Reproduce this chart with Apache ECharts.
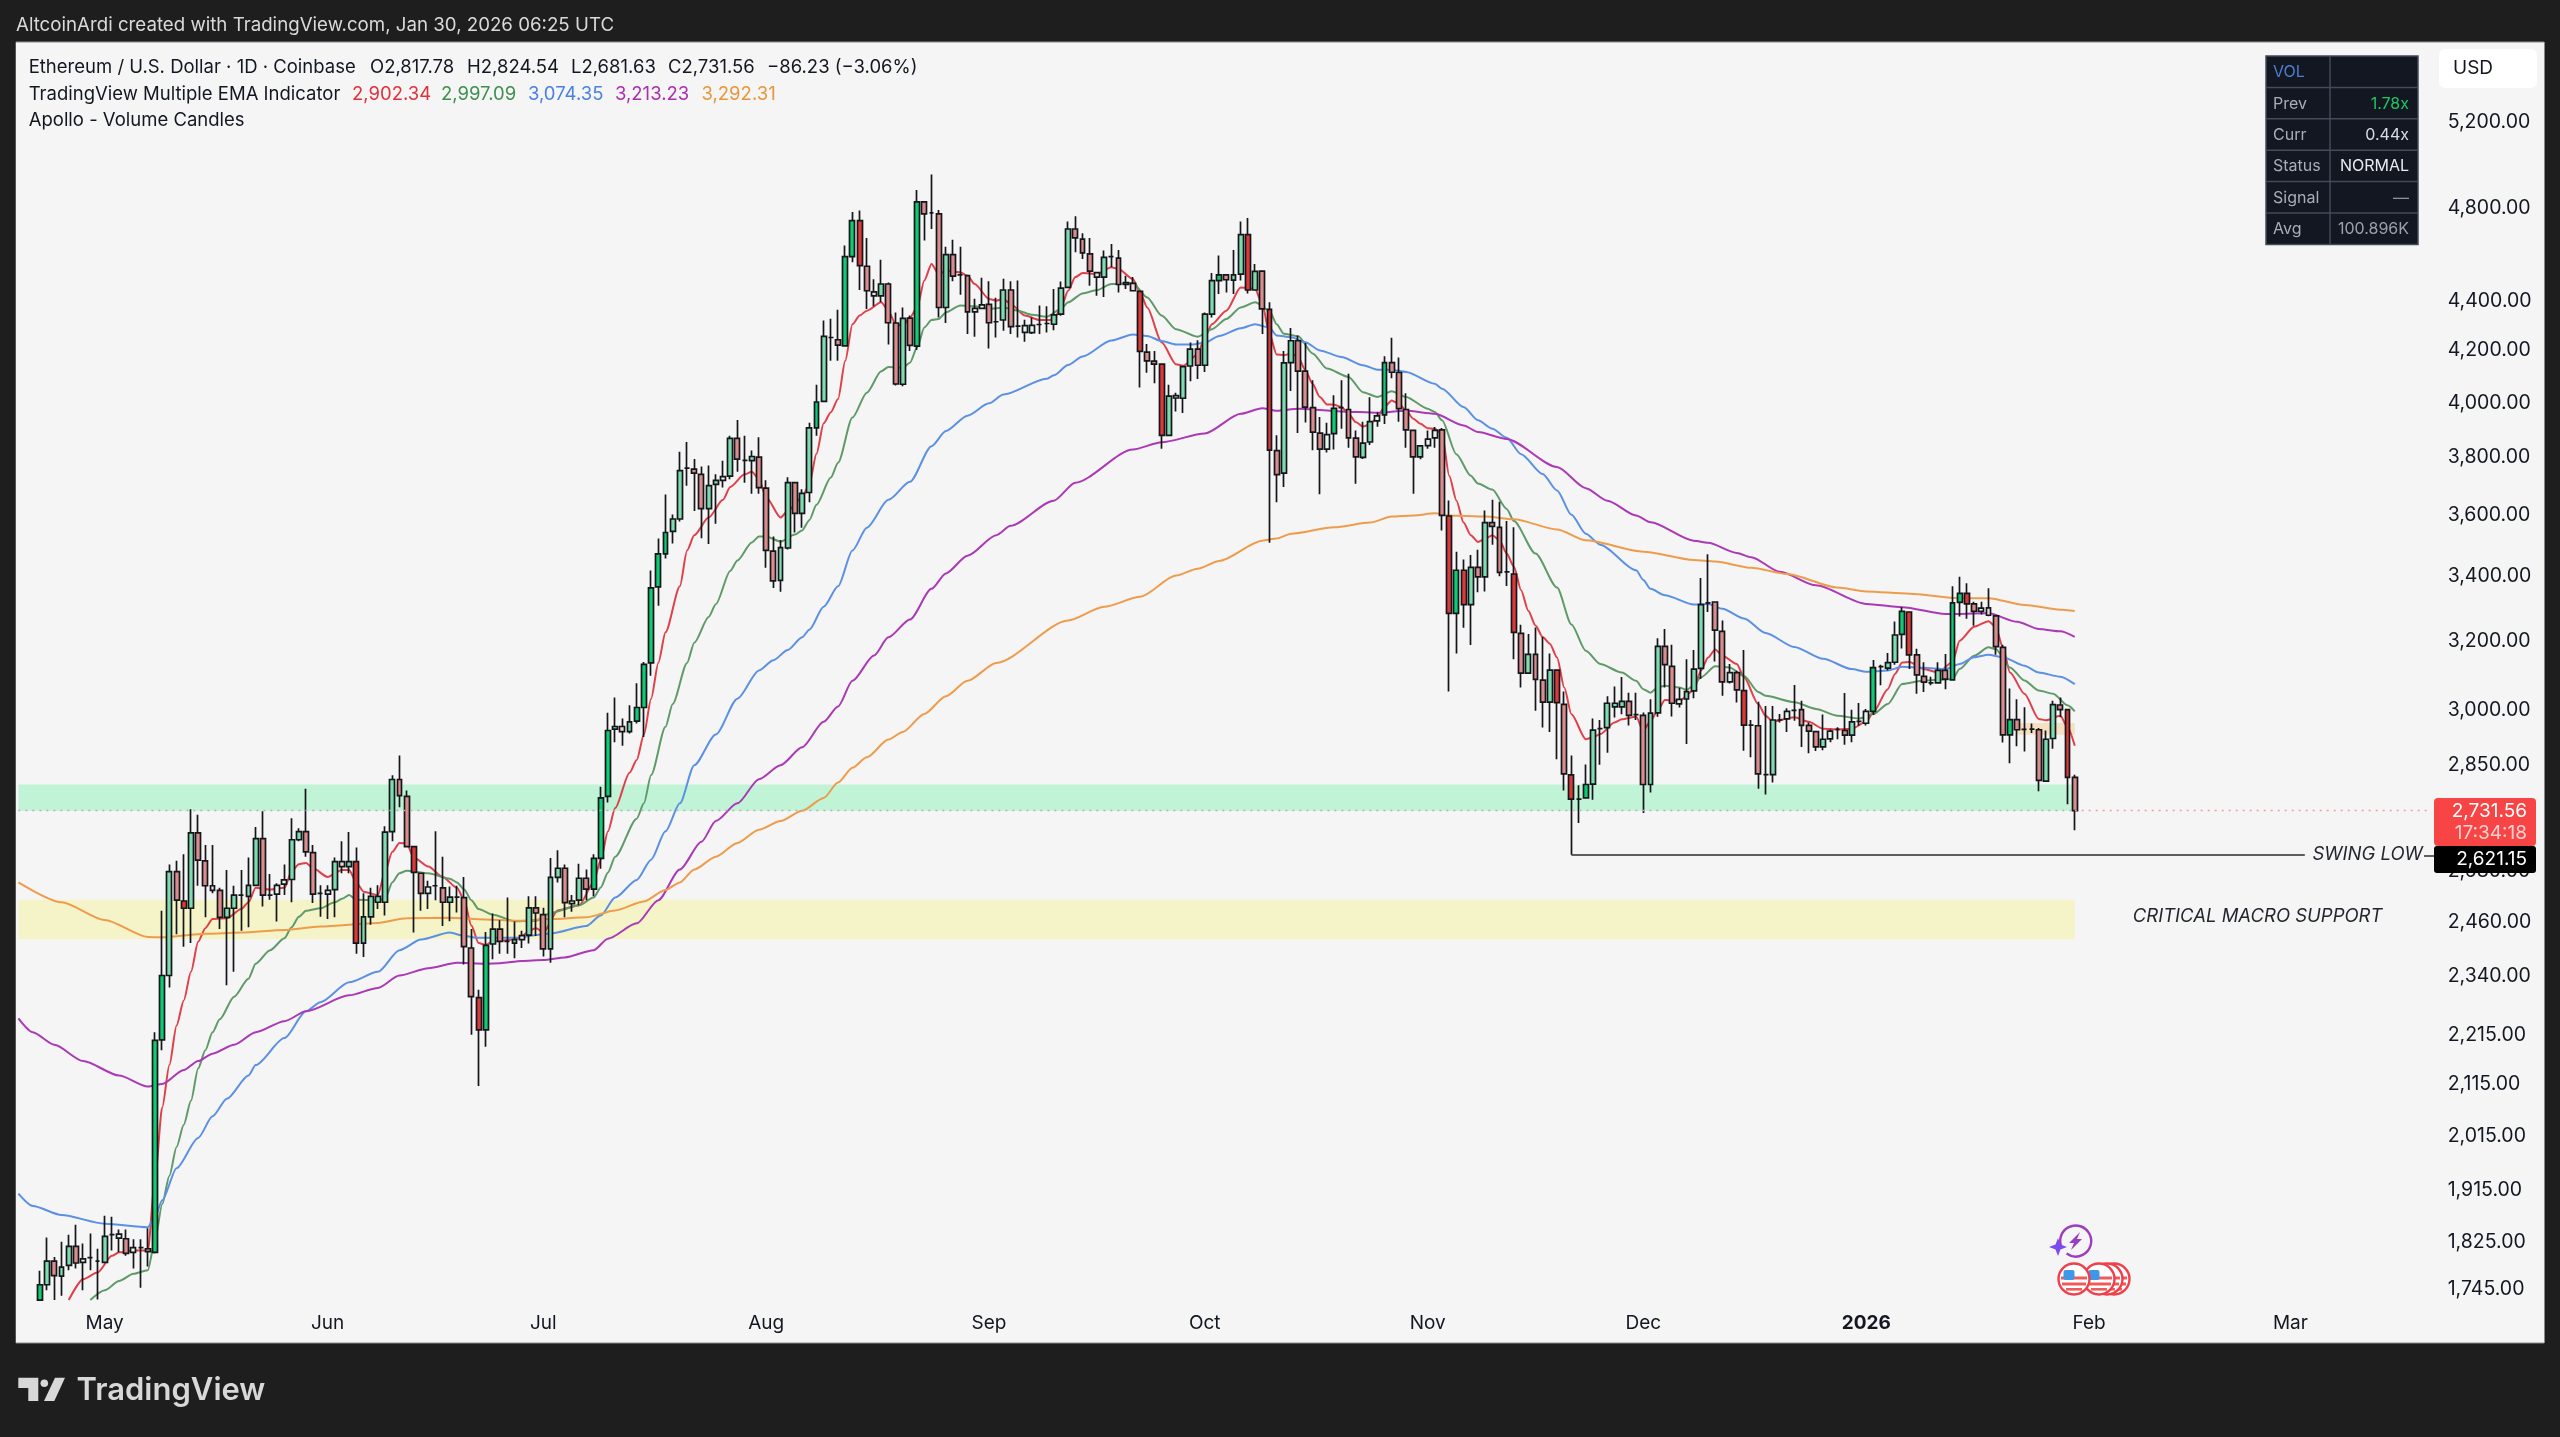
<!DOCTYPE html>
<html><head><meta charset="utf-8">
<style>html,body{margin:0;padding:0;background:#1e1e1e}#c{width:2560px;height:1437px}</style>
<script src="https://cdn.jsdelivr.net/npm/echarts@6/dist/echarts.min.js"></script>
</head><body><div id="c"></div>
<script>
// Daily candles from 2025-04-22: [open, high, low, close]
const ethOHLC = [
[1728,1776,1728,1753],[1753,1832,1744,1792],[1792,1799,1728,1768],[1767,1825,1735,1782],[1785,1837,1777,1817],[1817,1854,1780,1789],[1790,1822,1744,1796],[1798,1839,1777,1798],[1792,1813,1729,1792],[1790,1870,1790,1834],
[1837,1868,1810,1837],[1831,1846,1807,1838],[1830,1846,1801,1805],[1807,1829,1780,1815],[1815,1829,1748,1815],[1813,1848,1783,1808],[1807,2220,1805,2203],[2204,2487,2183,2341],[2341,2597,2315,2580],[2580,2606,2433,2512],
[2510,2622,2405,2493],[2493,2735,2413,2675],[2675,2721,2546,2608],[2606,2645,2472,2546],[2546,2645,2528,2535],[2535,2541,2445,2472],[2472,2584,2320,2493],[2493,2546,2349,2524],[2524,2584,2441,2524],[2521,2614,2449,2547],
[2547,2690,2546,2661],[2661,2730,2497,2524],[2524,2574,2513,2524],[2526,2552,2462,2547],[2550,2597,2524,2560],[2561,2712,2507,2658],[2658,2687,2654,2678],[2678,2788,2616,2628],[2626,2645,2505,2526],[2528,2547,2473,2528],
[2526,2547,2468,2535],[2537,2614,2472,2604],[2604,2654,2576,2592],[2592,2677,2576,2604],[2604,2639,2389,2413],[2413,2528,2382,2473],[2473,2541,2455,2521],[2507,2547,2491,2521],[2507,2692,2476,2677],[2678,2823,2654,2812],
[2812,2876,2740,2770],[2768,2783,2641,2641],[2641,2641,2437,2578],[2576,2576,2487,2528],[2528,2558,2491,2543],[2546,2679,2512,2546],[2541,2616,2452,2507],[2507,2544,2463,2519],[2519,2546,2483,2519],[2518,2567,2365,2405],
[2402,2445,2215,2295],[2293,2310,2111,2225],[2225,2438,2190,2408],[2411,2481,2377,2445],[2445,2465,2389,2417],[2417,2518,2389,2417],[2413,2462,2379,2421],[2421,2441,2402,2430],[2431,2521,2412,2494],[2494,2521,2429,2482],
[2478,2494,2383,2400],[2400,2613,2369,2566],[2566,2632,2554,2588],[2588,2597,2472,2506],[2504,2524,2485,2510],[2512,2599,2500,2564],[2564,2585,2512,2538],[2538,2622,2521,2612],[2612,2793,2587,2764],[2768,2993,2752,2944],
[2948,3036,2912,2955],[2955,2977,2902,2941],[2941,3014,2936,2968],[2970,3077,2963,3008],[3008,3139,2926,3132],[3136,3419,3099,3364],[3367,3523,3308,3473],[3473,3671,3458,3543],[3547,3603,3507,3588],[3588,3821,3580,3754],
[3763,3856,3701,3763],[3759,3795,3615,3745],[3741,3769,3524,3623],[3623,3772,3505,3702],[3706,3741,3572,3720],[3720,3789,3695,3733],[3735,3879,3724,3869],[3869,3936,3750,3795],[3790,3879,3712,3790],[3789,3825,3674,3804],
[3802,3873,3674,3695],[3693,3720,3428,3484],[3482,3530,3364,3386],[3388,3518,3352,3493],[3492,3731,3487,3712],[3712,3712,3543,3607],[3607,3689,3559,3675],[3678,3926,3645,3907],[3907,4068,3879,4003],[4005,4320,4005,4256],
[4252,4327,4160,4252],[4243,4364,4160,4222],[4219,4634,4219,4586],[4586,4781,4562,4743],[4743,4788,4445,4548],[4545,4667,4367,4442],[4437,4490,4378,4421],[4421,4573,4394,4470],[4470,4476,4224,4311],[4310,4352,4065,4071],
[4070,4373,4062,4329],[4330,4340,4199,4221],[4218,4881,4202,4827],[4827,4827,4656,4773],[4778,4952,4706,4778],[4773,4791,4332,4373],[4373,4629,4310,4595],[4595,4659,4482,4503],[4508,4629,4425,4508],[4505,4505,4266,4355],
[4355,4409,4255,4369],[4369,4496,4367,4384],[4386,4482,4208,4311],[4315,4413,4252,4315],[4322,4492,4279,4445],[4445,4482,4266,4295],[4297,4485,4252,4297],[4272,4323,4235,4299],[4271,4332,4266,4300],[4304,4381,4266,4304],
[4308,4378,4272,4308],[4305,4449,4281,4343],[4346,4481,4339,4453],[4456,4739,4453,4706],[4706,4763,4605,4667],[4662,4687,4576,4602],[4598,4667,4463,4524],[4518,4520,4421,4499],[4499,4612,4416,4583],[4586,4641,4541,4586],
[4580,4615,4435,4468],[4476,4505,4449,4468],[4473,4499,4439,4442],[4439,4439,4058,4197],[4194,4226,4114,4160],[4159,4199,4074,4147],[4147,4147,3832,3880],[3880,4068,3880,4025],[4018,4038,3968,4027],[4017,4138,3962,4138],
[4140,4232,4081,4206],[4206,4241,4090,4143],[4143,4352,4117,4346],[4346,4516,4332,4484],[4484,4591,4428,4508],[4508,4512,4435,4488],[4486,4615,4428,4508],[4512,4739,4485,4681],[4681,4755,4431,4445],[4445,4555,4442,4523],
[4524,4527,4266,4367],[4365,4394,3509,3827],[3825,3880,3645,3740],[3745,4199,3697,4152],[4153,4290,4044,4239],[4239,4260,3889,4120],[4120,4230,3927,3984],[3982,4085,3826,3892],[3888,3947,3672,3830],[3830,3926,3818,3883],
[3886,4028,3829,3979],[3982,4085,3904,3982],[3975,4110,3835,3871],[3870,3898,3708,3803],[3801,3930,3795,3852],[3856,4021,3845,3930],[3933,3965,3911,3951],[3955,4178,3921,4153],[4153,4251,4093,4116],[4115,4173,3930,3978],
[3975,4036,3835,3900],[3898,3898,3674,3803],[3803,3842,3794,3842],[3843,3898,3832,3866],[3871,3910,3835,3898],[3900,3907,3550,3600],[3598,3651,3053,3285],[3285,3480,3164,3420],[3420,3455,3241,3312],[3312,3469,3189,3429],
[3429,3486,3350,3399],[3399,3617,3353,3576],[3576,3653,3503,3563],[3560,3646,3401,3413],[3415,3581,3370,3415],[3408,3560,3147,3227],[3224,3250,3065,3106],[3106,3222,3106,3161],[3161,3242,2999,3088],[3086,3213,2952,3023],
[3023,3164,2940,3115],[3115,3115,2866,3022],[3017,3053,2783,2827],[2824,2876,2621,2761],[2761,2797,2700,2761],[2764,2852,2764,2799],[2800,2977,2759,2945],[2949,2973,2851,2949],[2952,3040,2883,3020],[3010,3068,2980,3020],
[3010,3095,2989,3025],[3025,3050,2958,2986],[2988,3050,2973,2988],[2986,2994,2725,2799],[2799,3031,2778,2992],[2993,3209,2982,3185],[3185,3237,3065,3131],[3126,3190,2983,3020],[3018,3064,3008,3031],[3032,3147,2907,3053],
[3055,3174,3034,3118],[3120,3395,3089,3312],[3317,3472,3289,3317],[3320,3320,3140,3234],[3230,3263,3041,3081],[3081,3133,3076,3108],[3108,3113,3022,3058],[3056,3174,2889,2959],[2959,2973,2871,2959],[2957,3024,2788,2827],
[2825,3012,2773,2825],[2825,3012,2804,2973],[2973,2990,2966,2973],[2976,3006,2940,2997],[3000,3072,2971,3000],[3002,3027,2899,2958],[2958,2966,2882,2942],[2941,2941,2888,2899],[2899,2988,2890,2920],[2921,2947,2912,2942],
[2947,2953,2920,2947],[2944,3049,2905,2931],[2931,3002,2912,2968],[2969,3021,2957,2969],[2964,3004,2958,2997],[2997,3145,2987,3122],[3125,3131,3071,3125],[3121,3165,3114,3137],[3138,3260,3131,3219],[3221,3304,3179,3291],
[3289,3289,3118,3160],[3160,3178,3047,3101],[3097,3138,3052,3080],[3078,3096,3071,3078],[3078,3138,3077,3114],[3114,3162,3060,3089],[3087,3369,3087,3317],[3319,3399,3275,3347],[3347,3379,3268,3314],[3314,3321,3247,3291],
[3291,3321,3281,3301],[3302,3363,3276,3279],[3277,3277,3160,3184],[3182,3190,2911,2932],[2932,3062,2855,2974],[2974,3031,2901,2946],[2947,3009,2887,2947],[2948,2963,2937,2948],[2946,2951,2781,2810],[2808,2944,2806,2920],
[2922,3027,2894,3016],[3015,3036,2981,3002],[3002,3004,2748,2817.78],[2817.78,2824.54,2681.63,2731.56]
];
// Volume-candle shading: candle positions with saturated / pale bodies (the rest are medium)
const highVolumeDays = [0,16,17,20,44,52,61,62,77,78,79,83,84,85,86,87,108,112,113,114,122,153,156,164,168,171,180,187,196,197,198,205,211,213,215,237,255,259,260,266,267,268,274,282];
const lowVolumeDays = [6,11,13,24,33,34,40,42,54,67,74,81,95,116,130,131,137,138,147,152,158,179,186,193,194,228,235,243,249,254,270,271];

// EMA lines: [candle position, price]
const emaRed = [[4,1728],[6,1762],[8,1773],[10,1801],[11,1807],[13,1810],[15,1810],[16,1935],[17,2069],[18,2153],[19,2234],[20,2287],[21,2349],[22,2416],[23,2447],[24,2468],[26,2470],[28,2491],[29,2507],[30,2541],[32,2537],[34,2541],[35,2580],[36,2598],[37,2601],[38,2588],[40,2567],[42,2584],[43,2584],[44,2554],[45,2532],[47,2524],[48,2580],[49,2628],[50,2650],[51,2648],[52,2614],[54,2592],[56,2567],[58,2541],[59,2512],[60,2453],[61,2413],[62,2409],[63,2417],[66,2421],[69,2447],[70,2437],[72,2488],[75,2500],[77,2554],[78,2609],[79,2679],[80,2738],[82,2830],[83,2864],[84,2933],[85,3033],[86,3136],[87,3227],[89,3369],[90,3484],[91,3534],[93,3593],[95,3653],[96,3697],[98,3741],[99,3750],[100,3724],[101,3662],[103,3593],[104,3615],[106,3662],[107,3706],[108,3814],[109,3924],[110,3965],[111,4014],[112,4160],[113,4305],[114,4340],[115,4360],[117,4394],[118,4360],[119,4305],[120,4299],[121,4332],[122,4373],[123,4485],[124,4555],[125,4512],[126,4526],[128,4519],[129,4505],[130,4470],[132,4408],[133,4401],[134,4408],[135,4387],[137,4340],[139,4322],[141,4322],[142,4373],[143,4442],[144,4499],[145,4516],[147,4512],[149,4541],[150,4533],[152,4491],[153,4435],[154,4373],[156,4233],[158,4147],[159,4141],[161,4185],[162,4252],[163,4305],[165,4360],[167,4456],[168,4453],[169,4449],[170,4387],[171,4266],[172,4185],[173,4182],[174,4189],[175,4175],[176,4123],[177,4072],[178,4022],[179,3994],[180,3993],[181,3984],[182,3959],[183,3929],[184,3912],[185,3920],[186,3947],[187,3984],[188,4009],[189,3996],[190,3972],[191,3941],[192,3922],[193,3906],[194,3904],[195,3886],[196,3736],[197,3651],[198,3576],[199,3534],[200,3512],[201,3522],[202,3534],[203,3517],[204,3474],[205,3431],[206,3357],[207,3293],[208,3248],[209,3213],[210,3193],[211,3152],[212,3065],[213,2989],[215,2920],[216,2925],[217,2934],[219,2966],[220,2975],[222,2982],[223,2943],[224,2971],[225,2999],[226,3029],[228,3027],[230,3056],[231,3113],[232,3152],[233,3176],[234,3157],[236,3133],[237,3094],[239,3017],[240,2985],[241,2969],[244,2981],[246,2968],[248,2949],[250,2947],[252,2949],[254,2968],[255,2995],[257,3060],[258,3104],[259,3137],[260,3139],[262,3118],[264,3108],[266,3139],[267,3202],[269,3244],[271,3261],[272,3244],[273,3182],[274,3108],[276,3047],[278,2976],[279,2972],[281,2985],[282,2953],[283,2902.34]];
const emaGreen = [[7,1728],[9,1744],[11,1759],[13,1771],[15,1777],[16,1828],[17,1890],[18,1941],[19,1994],[20,2036],[21,2082],[22,2146],[23,2183],[24,2220],[25,2247],[27,2295],[29,2334],[30,2367],[32,2397],[34,2424],[35,2449],[36,2473],[37,2487],[39,2493],[41,2507],[42,2515],[43,2524],[44,2513],[47,2512],[48,2515],[49,2554],[50,2576],[51,2582],[54,2576],[57,2563],[58,2554],[59,2537],[60,2512],[61,2491],[63,2478],[66,2463],[69,2464],[71,2482],[75,2500],[77,2518],[78,2542],[79,2578],[80,2616],[83,2711],[84,2750],[85,2824],[87,2954],[88,3018],[90,3136],[91,3196],[93,3274],[94,3313],[96,3418],[97,3451],[99,3510],[100,3530],[101,3530],[103,3513],[105,3536],[106,3550],[107,3584],[108,3636],[110,3730],[111,3782],[113,3945],[115,4038],[117,4120],[118,4136],[120,4133],[121,4153],[122,4213],[123,4292],[124,4322],[125,4326],[126,4353],[128,4381],[130,4378],[132,4367],[134,4373],[136,4360],[138,4343],[140,4335],[142,4367],[143,4394],[145,4431],[147,4445],[149,4470],[152,4473],[154,4414],[156,4340],[158,4285],[161,4255],[163,4285],[165,4326],[167,4373],[169,4394],[171,4360],[172,4305],[173,4267],[175,4257],[177,4189],[179,4130],[182,4098],[184,4040],[186,4022],[188,4043],[190,4022],[193,3978],[194,3966],[195,3935],[197,3812],[199,3736],[200,3709],[202,3688],[204,3622],[205,3581],[208,3474],[211,3365],[213,3251],[215,3172],[217,3133],[220,3108],[222,3084],[223,3060],[224,3050],[225,3065],[226,3070],[228,3065],[229,3058],[230,3070],[231,3094],[233,3126],[235,3123],[237,3098],[239,3052],[240,3041],[244,3023],[247,3004],[250,2985],[253,2977],[255,2990],[257,3018],[259,3075],[262,3085],[264,3087],[266,3089],[267,3118],[269,3157],[271,3182],[272,3177],[274,3123],[276,3085],[278,3056],[280,3047],[282,3014],[283,2997.09]];
const emaBlue = [[-3,1909],[-1,1887],[3,1871],[9,1856],[15,1850],[16,1868],[17,1897],[19,1955],[22,2011],[24,2052],[26,2086],[29,2132],[30,2153],[34,2208],[37,2264],[39,2283],[43,2326],[47,2349],[50,2397],[53,2421],[57,2437],[59,2429],[61,2425],[66,2425],[71,2435],[76,2452],[78,2476],[80,2518],[83,2560],[85,2609],[87,2679],[89,2750],[91,2850],[94,2933],[97,3033],[100,3114],[102,3144],[104,3174],[106,3212],[107,3235],[109,3305],[111,3369],[113,3484],[115,3559],[118,3653],[121,3715],[124,3841],[126,3896],[129,3952],[132,3998],[134,4031],[140,4091],[141,4104],[143,4144],[145,4177],[149,4240],[152,4264],[154,4258],[156,4238],[158,4224],[160,4224],[162,4231],[164,4258],[167,4289],[169,4305],[171,4292],[172,4260],[174,4253],[176,4233],[178,4201],[181,4175],[184,4143],[186,4126],[188,4126],[190,4117],[194,4072],[195,4053],[198,3984],[200,3935],[202,3904],[204,3871],[206,3812],[209,3742],[211,3685],[213,3602],[215,3539],[217,3503],[222,3420],[223,3389],[224,3361],[226,3341],[230,3312],[232,3314],[234,3299],[237,3269],[240,3225],[244,3183],[248,3148],[252,3118],[254,3110],[257,3114],[259,3125],[262,3122],[265,3118],[267,3133],[269,3153],[271,3160],[273,3153],[276,3128],[278,3108],[281,3096],[283,3074.35]];
const emaPurple = [[-3,2249],[-1,2220],[2,2194],[6,2161],[11,2132],[15,2110],[17,2115],[20,2143],[22,2161],[24,2176],[27,2194],[30,2220],[34,2243],[37,2264],[43,2298],[47,2314],[50,2341],[54,2357],[58,2369],[62,2367],[64,2368],[67,2373],[70,2375],[73,2381],[77,2397],[79,2423],[83,2458],[86,2512],[89,2585],[92,2653],[94,2705],[97,2750],[100,2813],[103,2850],[106,2898],[109,2968],[111,3011],[113,3084],[116,3158],[118,3212],[121,3266],[124,3361],[126,3410],[129,3467],[133,3534],[135,3565],[141,3650],[144,3712],[152,3829],[156,3855],[162,3887],[167,3959],[170,3980],[172,3970],[175,3978],[181,3968],[186,3963],[190,3970],[194,3959],[198,3916],[200,3892],[204,3867],[211,3767],[215,3693],[218,3650],[222,3600],[224,3577],[230,3516],[232,3509],[236,3476],[238,3462],[242,3415],[247,3372],[254,3314],[259,3304],[265,3283],[271,3285],[275,3259],[278,3237],[281,3230],[283,3213.23]];
const emaOrange = [[-3,2554],[3,2507],[9,2466],[15,2427],[17,2426],[23,2434],[28,2437],[34,2443],[39,2451],[47,2459],[51,2470],[57,2471],[62,2467],[66,2464],[71,2468],[76,2472],[80,2488],[84,2509],[87,2536],[89,2554],[91,2585],[94,2616],[97,2650],[100,2683],[103,2705],[106,2731],[109,2764],[111,2804],[113,2843],[115,2871],[118,2919],[120,2940],[123,2990],[126,3040],[129,3084],[133,3136],[143,3263],[148,3305],[153,3336],[158,3403],[161,3425],[164,3450],[170,3516],[172,3523],[174,3539],[180,3560],[185,3576],[188,3596],[191,3600],[194,3607],[196,3600],[201,3596],[205,3587],[211,3553],[215,3517],[223,3480],[230,3453],[233,3448],[238,3428],[243,3408],[250,3365],[254,3353],[260,3346],[267,3332],[271,3332],[276,3311],[281,3296],[283,3292.31]];

const priceTicks = [5200,4800,4400,4200,4000,3800,3600,3400,3200,3000,2850,2580,2460,2340,2215,2115,2015,1915,1825,1745];
const monthNames = ['Jan','Feb','Mar','Apr','May','Jun','Jul','Aug','Sep','Oct','Nov','Dec'];
const tableRows = [['VOL',''],['Prev','1.78x'],['Curr','0.44x'],['Status','NORMAL'],['Signal','—'],['Avg','100.896K']];
const lastPrice = 2731.56, swingLow = 2621.15;
const greenZone = [2731, 2799], yellowZone = [2422, 2513], orangeZone = [2932, 2965];

// Category axis: one slot per calendar day, three blank days before the first candle.
const categories = [];
for (let d = Date.UTC(2025,3,19), n = 0; n < 336; n++, d += 864e5) categories.push(new Date(d).toISOString().slice(0,10));
const leadDays = 3;
const cat = i => categories[i + leadDays];

const UI = 'Inter, "Noto Sans", sans-serif';
const INK = '#131722';
const FILL = {
  up:   ['#e4f7ee', '#7edcb0', '#0fcb72'],
  down: ['#f3dada', '#d98d8d', '#dc3a3a']
};
const candleData = [];
for (let i = 0; i < leadDays; i++) candleData.push(['-','-','-','-']);
ethOHLC.forEach((r, i) => {
  const lvl = highVolumeDays.includes(i) ? 2 : lowVolumeDays.includes(i) ? 0 : 1;
  const f = (r[3] >= r[0] ? FILL.up : FILL.down)[lvl];
  candleData.push({ value: [r[0], r[3], r[2], r[1]], itemStyle: { color: f, color0: f } });
});

function emaSeries(name, pts, color) {
  return { name, type: 'line', data: pts.map(p => [cat(p[0]), p[1]]), showSymbol: false, symbol: 'none',
    smooth: 0.25, smoothMonotone: 'x', lineStyle: { width: 2, color }, z: 3, silent: true, animation: false };
}

// ---- fixed furniture drawn as graphics ----
const T = (x, y, text, o) => ({ type: 'text', z: 100, silent: true, x, y,
  style: Object.assign({ text, font: '18.5px ' + UI, fill: INK, textVerticalAlign: 'middle' }, o || {}) });
const R = (x, y, w, h, fill, o) => ({ type: 'rect', z: (o && o.z) || 90, silent: true,
  shape: { x, y, width: w, height: h, r: (o && o.r) || 0 }, style: Object.assign({ fill }, (o && o.style) || {}) });

const g = [];
g.push(R(15.5, 42, 2529, 1301, '#f5f5f5', { z: -10 }));
g.push(R(0, 0, 15.5, 1437, '#1e1e1e', { z: 80 }));
g.push({ type: 'line', z: 81, silent: true, shape: { x1: 16, y1: 42, x2: 2544, y2: 42 }, style: { stroke: '#8b8b8b', lineWidth: 1 } });
g.push({ type: 'line', z: 81, silent: true, shape: { x1: 16, y1: 1343, x2: 2544, y2: 1343 }, style: { stroke: '#8b8b8b', lineWidth: 1 } });
g.push(T(16, 25, 'AltcoinArdi created with TradingView.com, Jan 30, 2026 06:25 UTC', { fill: '#d9d9d9', font: '18.7px ' + UI }));
// Legend rows
[[28.7,'Ethereum / U.S. Dollar · 1D · Coinbase'],[370,'O2,817.78'],[467,'H2,824.54'],[571,'L2,681.63'],[668,'C2,731.56'],[767,'−86.23 (−3.06%)']]
  .forEach(a => g.push(T(a[0], 67, a[1])));
g.push(T(28.7, 94, 'TradingView Multiple EMA Indicator'));
[[352,'2,902.34','#e0323c'],[441,'2,997.09','#3f8f4f'],[528,'3,074.35','#4a82e0'],[615,'3,213.23','#a92fb0'],[701.5,'3,292.31','#e8963c']]
  .forEach(a => g.push(T(a[0], 94, a[1], { fill: a[2] })));
g.push(T(28.7, 120, 'Apollo - Volume Candles'));
// VOL table
const tx0 = 2266, tx1 = 2418, tsplit = 2330, ty0 = 56, rowH = 31.4;
g.push(R(tx0, ty0, tx1 - tx0, rowH * 6, '#131722', { style: { stroke: '#434a58', lineWidth: 1.5 } }));
g.push({ type: 'line', z: 91, silent: true, shape: { x1: tsplit, y1: ty0, x2: tsplit, y2: ty0 + rowH * 6 }, style: { stroke: '#434a58', lineWidth: 1.5 } });
const valColor = { Prev: '#22c55e', Curr: '#d9dce3', Status: '#e8eaf0', Signal: '#8a91a0', Avg: '#9aa1ad' };
tableRows.forEach((row, k) => {
  const yc = ty0 + rowH * (k + 0.5) + 0.7;
  if (k) g.push({ type: 'line', z: 91, silent: true, shape: { x1: tx0, y1: ty0 + rowH * k, x2: tx1, y2: ty0 + rowH * k }, style: { stroke: '#434a58', lineWidth: 1.5 } });
  g.push(T(2273, yc, row[0], { font: '16px ' + UI, fill: k === 0 ? '#4a7fd0' : '#a8adb8' }));
  if (row[1]) g.push(T(2409, yc, row[1], { font: '16px ' + UI, fill: valColor[row[0]], textAlign: 'right' }));
});
// USD chip
g.push(R(2439, 49, 98, 39, '#ffffff', { r: 6 }));
g.push(T(2453, 68.5, 'USD', { font: '19px ' + UI }));
// Price tags
g.push(R(2434, 798, 102, 48, '#f74545', { r: 4 }));
g.push(T(2527, 811, '2,731.56', { textAlign: 'right', fill: '#ffffff', font: '19px ' + UI }));
g.push(T(2527, 833, '17:34:18', { textAlign: 'right', fill: '#ffd0d0', font: '19px ' + UI }));
g.push(R(2434, 846, 102, 27, '#000000', { r: 3 }));
g.push(T(2527, 859, '2,621.15', { textAlign: 'right', fill: '#ffffff', font: '19px ' + UI }));
g.push({ type: 'line', z: 85, silent: true, shape: { x1: 2424, y1: 856, x2: 2434, y2: 856 }, style: { stroke: '#222', lineWidth: 1.4 } });
// TradingView mark
g.push({ type: 'polygon', z: 90, silent: true, shape: { points: [[18.3,1377.7],[38.3,1377.7],[38.3,1401],[28.3,1401],[28.3,1388],[18.3,1388]] }, style: { fill: '#d8d8d8' } });
g.push({ type: 'circle', z: 90, silent: true, shape: { cx: 44.3, cy: 1383.3, r: 3.8 }, style: { fill: '#d8d8d8' } });
g.push({ type: 'polygon', z: 90, silent: true, shape: { points: [[65,1377.7],[54.3,1401],[44,1401],[55,1377.7]] }, style: { fill: '#d8d8d8' } });
g.push(T(76.5, 1391, 'TradingView', { font: '600 31px ' + UI, fill: '#d8d8d8' }));
// Event icons
function flag(cx, cy) {
  const r = 15.5, out = [];
  out.push({ type: 'circle', z: 92, silent: true, shape: { cx, cy, r }, style: { fill: '#ffffff', stroke: '#ef3f4a', lineWidth: 2.4 } });
  [[-2.5,3],[3.5,3],[9,2.6]].forEach(b => {
    const dy = b[0] + b[1] / 2, hw = Math.sqrt(Math.max(1, (r - 2.5) * (r - 2.5) - dy * dy));
    out.push({ type: 'rect', z: 92, silent: true, shape: { x: cx - hw, y: cy + b[0], width: hw * 2, height: b[1] }, style: { fill: '#ef5a5a' } });
  });
  out.push({ type: 'rect', z: 92, silent: true, shape: { x: cx - 10.5, y: cy - 9, width: 11, height: 10, r: 2 }, style: { fill: '#3f97e8' } });
  return out;
}
[2114, 2107, 2099, 2074].forEach(cx => flag(cx, 1279).forEach(e => g.push(e)));
g.push({ type: 'arc', z: 92, silent: true, shape: { cx: 2075.7, cy: 1241, r: 15.5, startAngle: Math.PI * 0.85, endAngle: Math.PI * 0.7 }, style: { fill: 'none', stroke: '#9c3cc0', lineWidth: 2.4 } });
g.push({ type: 'polygon', z: 92, silent: true, shape: { points: [[2080,1232],[2069,1243],[2074,1243],[2071,1250],[2082,1239],[2077,1239]] }, style: { fill: '#9c3cc0' } });
g.push({ type: 'polygon', z: 93, silent: true, shape: { points: [[2058,1238],[2060.5,1244.5],[2067,1247],[2060.5,1249.5],[2058,1256],[2055.5,1249.5],[2049,1247],[2055.5,1244.5]] }, style: { fill: '#7a4cf0' } });

const zone = (range, from, to, color) => [
  { xAxis: from, yAxis: range[1], itemStyle: { color } },
  { xAxis: to, yAxis: range[0] }
];
const flat = (a, b, price, color, type, width) => [
  { coord: [a, price], lineStyle: { color, type, width }, symbol: 'none' },
  { coord: [b, price], symbol: 'none' }
];

const chart = echarts.init(document.getElementById('c'), null, { renderer: 'canvas', width: 2560, height: 1437 });
chart.setOption({
  animation: false,
  backgroundColor: '#1e1e1e',
  textStyle: { fontFamily: UI },
  grid: { left: 14.8, top: 42.7, width: 2415.84, height: 1258, containLabel: false },
  xAxis: {
    type: 'category', data: categories, boundaryGap: true,
    axisLine: { show: false }, axisTick: { show: false }, splitLine: { show: false },
    axisLabel: {
      margin: 13, fontSize: 19, color: INK, fontFamily: UI, hideOverlap: false,
      interval: (idx, v) => v.slice(8) === '01',
      formatter: v => v === '2026-01-01' ? '{b|2026}' : monthNames[+v.slice(5,7) - 1],
      rich: { b: { fontWeight: 700, fontSize: 19, color: INK, fontFamily: UI } }
    }
  },
  yAxis: {
    type: 'log', logBase: 10, position: 'right', min: 1727, max: 5602,
    axisLine: { show: false }, axisTick: { show: false }, splitLine: { show: false }, minorTick: { show: false }, minorSplitLine: { show: false },
    axisLabel: {
      customValues: priceTicks, margin: 17, fontSize: 19.5, color: INK, fontFamily: UI, padding: [2, 0, 0, 0],
      formatter: v => Number(v).toLocaleString('en-US', { minimumFractionDigits: 2, maximumFractionDigits: 2 })
    }
  },
  graphic: { elements: g },
  series: [
    emaSeries('EMA 1', emaRed, '#e0404a'),
    emaSeries('EMA 2', emaGreen, '#5f9a68'),
    emaSeries('EMA 3', emaBlue, '#5b90e4'),
    emaSeries('EMA 4', emaPurple, '#ab38b4'),
    emaSeries('EMA 5', emaOrange, '#ee9c4c'),
    {
      name: 'ETHUSD', type: 'candlestick', data: candleData, barWidth: 5.4, z: 4, silent: true, clip: true,
      itemStyle: { borderColor: '#14161a', borderColor0: '#14161a', borderColorDoji: '#14161a', borderWidth: 1.7 },
      markArea: { silent: true, z: 1, data: [
        zone(greenZone, categories[0], cat(283), 'rgba(150,240,190,0.55)'),
        zone(yellowZone, categories[0], cat(283), 'rgba(244,244,170,0.6)'),
        zone(orangeZone, cat(275), cat(283), 'rgba(250,200,130,0.45)')
      ] },
      markLine: { silent: true, symbol: 'none', animation: false, label: { show: false }, data: [
        flat(categories[0], cat(283), lastPrice, '#b4b4b4', [2, 5], 1.3),
        flat(cat(283), categories[335], lastPrice, '#f0a0a0', [2, 5], 1.3),
        flat(cat(213), categories[318], swingLow, '#2a2a2a', 'solid', 1.6)
      ] },
      markPoint: { silent: true, symbol: 'circle', symbolSize: 1, itemStyle: { color: 'rgba(0,0,0,0)' }, data: [
        { coord: [categories[319], swingLow], label: { show: true, position: 'right', distance: 0, formatter: 'SWING LOW', fontSize: 18.5, fontStyle: 'italic', color: '#23262e', fontFamily: UI } },
        { coord: [categories[294], 2473], label: { show: true, position: 'right', distance: 0, formatter: 'CRITICAL MACRO SUPPORT', fontSize: 18.5, fontStyle: 'italic', color: '#23262e', fontFamily: UI } }
      ] }
    }
  ]
});
</script></body></html>
